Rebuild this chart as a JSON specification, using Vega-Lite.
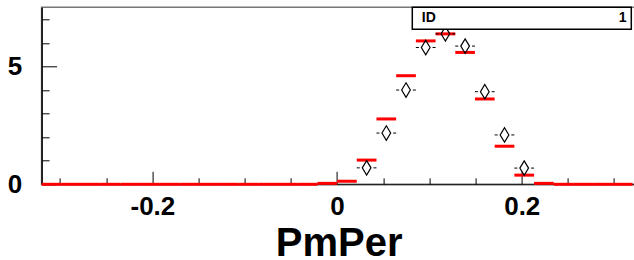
{
  "$schema": "https://vega.github.io/schema/vega-lite/v6.json",
  "width": 594,
  "height": 177,
  "autosize": {"type": "none"},
  "padding": {"left": 41.6, "top": 7.3, "right": 0, "bottom": 75.7},
  "background": "white",
  "config": {
    "view": {"stroke": "#777777", "strokeWidth": 1.5},
    "font": "Liberation Sans",
    "axis": {"grid": false, "labelFontWeight": "bold", "titleFontWeight": "bold", "domainColor": "black", "tickColor": "black", "labelColor": "black", "titleColor": "black", "labelOverlap": false, "labelBound": false, "labelFlush": false},
    "legend": {"strokeWidth": 1.5}
  },
  "data": {
    "values": [
      {"lo": -0.32, "hi": -0.29867, "hist": 0, "mc": null},
      {"lo": -0.29867, "hi": -0.27733, "hist": 0, "mc": null},
      {"lo": -0.27733, "hi": -0.256, "hist": 0, "mc": null},
      {"lo": -0.256, "hi": -0.23467, "hist": 0, "mc": null},
      {"lo": -0.23467, "hi": -0.21333, "hist": 0, "mc": null},
      {"lo": -0.21333, "hi": -0.192, "hist": 0, "mc": null},
      {"lo": -0.192, "hi": -0.17067, "hist": 0, "mc": null},
      {"lo": -0.17067, "hi": -0.14933, "hist": 0, "mc": null},
      {"lo": -0.14933, "hi": -0.128, "hist": 0, "mc": null},
      {"lo": -0.128, "hi": -0.10667, "hist": 0, "mc": null},
      {"lo": -0.10667, "hi": -0.08533, "hist": 0, "mc": null},
      {"lo": -0.08533, "hi": -0.064, "hist": 0, "mc": null},
      {"lo": -0.064, "hi": -0.04267, "hist": 0, "mc": null},
      {"lo": -0.04267, "hi": -0.02133, "hist": 0, "mc": null},
      {"lo": -0.02133, "hi": 0, "hist": 0.04, "mc": null},
      {"lo": 0, "hi": 0.02133, "hist": 0.13, "mc": null},
      {"lo": 0.02133, "hi": 0.04267, "hist": 1.03, "mc": 0.7},
      {"lo": 0.04267, "hi": 0.064, "hist": 2.78, "mc": 2.18},
      {"lo": 0.064, "hi": 0.08533, "hist": 4.62, "mc": 4.01},
      {"lo": 0.08533, "hi": 0.10667, "hist": 6.1, "mc": 5.82},
      {"lo": 0.10667, "hi": 0.128, "hist": 6.4, "mc": 6.4},
      {"lo": 0.128, "hi": 0.14933, "hist": 5.61, "mc": 5.88},
      {"lo": 0.14933, "hi": 0.17067, "hist": 3.63, "mc": 3.94},
      {"lo": 0.17067, "hi": 0.192, "hist": 1.62, "mc": 2.1},
      {"lo": 0.192, "hi": 0.21333, "hist": 0.39, "mc": 0.69},
      {"lo": 0.21333, "hi": 0.23467, "hist": 0.04, "mc": null},
      {"lo": 0.23467, "hi": 0.256, "hist": 0, "mc": null},
      {"lo": 0.256, "hi": 0.27733, "hist": 0, "mc": null},
      {"lo": 0.27733, "hi": 0.29867, "hist": 0, "mc": null},
      {"lo": 0.29867, "hi": 0.32, "hist": 0, "mc": null}
    ]
  },
  "layer": [
    {
      "mark": {"type": "rule", "color": "#ff0000", "strokeWidth": 3},
      "encoding": {
        "x": {
          "field": "lo", "type": "quantitative",
          "scale": {"domain": [-0.32, 0.3233], "nice": false, "zero": false},
          "axis": {
            "orient": "bottom",
            "values": [-0.3, -0.25, -0.2, -0.15, -0.1, -0.05, 0, 0.05, 0.1, 0.15, 0.2, 0.25, 0.3],
            "tickCount": 50,
            "tickSize": {"condition": {"test": "abs(datum.value) < 1e-6 || abs(abs(datum.value) - 0.2) < 1e-6", "value": -13}, "value": -6.5},
            "labelExpr": "abs(datum.value) < 1e-6 ? '0' : abs(datum.value + 0.2) < 1e-6 ? '-0.2' : abs(datum.value - 0.2) < 1e-6 ? '0.2' : ''",
            "labelOverlap": false,
            "labelFontSize": 26,
            "labelPadding": 22,
            "title": "PmPer",
            "titleFontSize": 40,
            "titlePadding": -2,
            "domainWidth": 1
          }
        },
        "x2": {"field": "hi"},
        "y": {
          "field": "hist", "type": "quantitative",
          "scale": {"domain": [0, 7.53], "nice": false},
          "axis": {
            "values": [0, 1, 2, 3, 4, 5, 6, 7],
            "tickCount": 50,
            "tickSize": {"condition": {"test": "datum.value == 0 || datum.value == 5", "value": -15}, "value": -7.5},
            "labelExpr": "datum.value == 0 ? '0' : datum.value == 5 ? '5' : ''",
            "labelOverlap": false,
            "labelFontSize": 26,
            "labelPadding": 35,
            "title": null,
            "domainWidth": 1.5
          }
        }
      }
    },
    {
      "transform": [{"filter": "datum.mc != null"}],
      "mark": {"type": "rule", "color": "black", "strokeWidth": 1, "strokeDash": [3, 13.7]},
      "encoding": {
        "x": {"field": "lo", "type": "quantitative"},
        "x2": {"field": "hi"},
        "y": {"field": "mc", "type": "quantitative"}
      }
    },
    {
      "transform": [{"filter": "datum.mc != null"}, {"calculate": "(datum.lo + datum.hi) / 2", "as": "mid"}],
      "mark": {"type": "point", "filled": false, "stroke": "black", "strokeWidth": 1.2, "size": 210, "opacity": 1},
      "encoding": {
        "x": {"field": "mid", "type": "quantitative"},
        "y": {"field": "mc", "type": "quantitative"},
        "shape": {
          "datum": "ID", "type": "nominal",
          "scale": {"range": ["M0,-1L0.6,0L0,1L-0.6,0Z"]},
          "legend": {
            "orient": "none", "legendX": 370.7, "legendY": 0,
            "direction": "horizontal",
            "title": "1",
            "titleOrient": "right",
            "titleFontSize": 14, "titleFontWeight": "bold", "titleColor": "black",
            "titlePadding": 182.5,
            "labelFontSize": 14, "labelFontWeight": "bold", "labelColor": "black",
            "symbolOpacity": 0, "symbolSize": 4, "symbolStrokeWidth": 0,
            "labelOffset": -8.5,
            "strokeColor": "black", "fillColor": "white", "padding": 4
          }
        }
      }
    }
  ]
}
